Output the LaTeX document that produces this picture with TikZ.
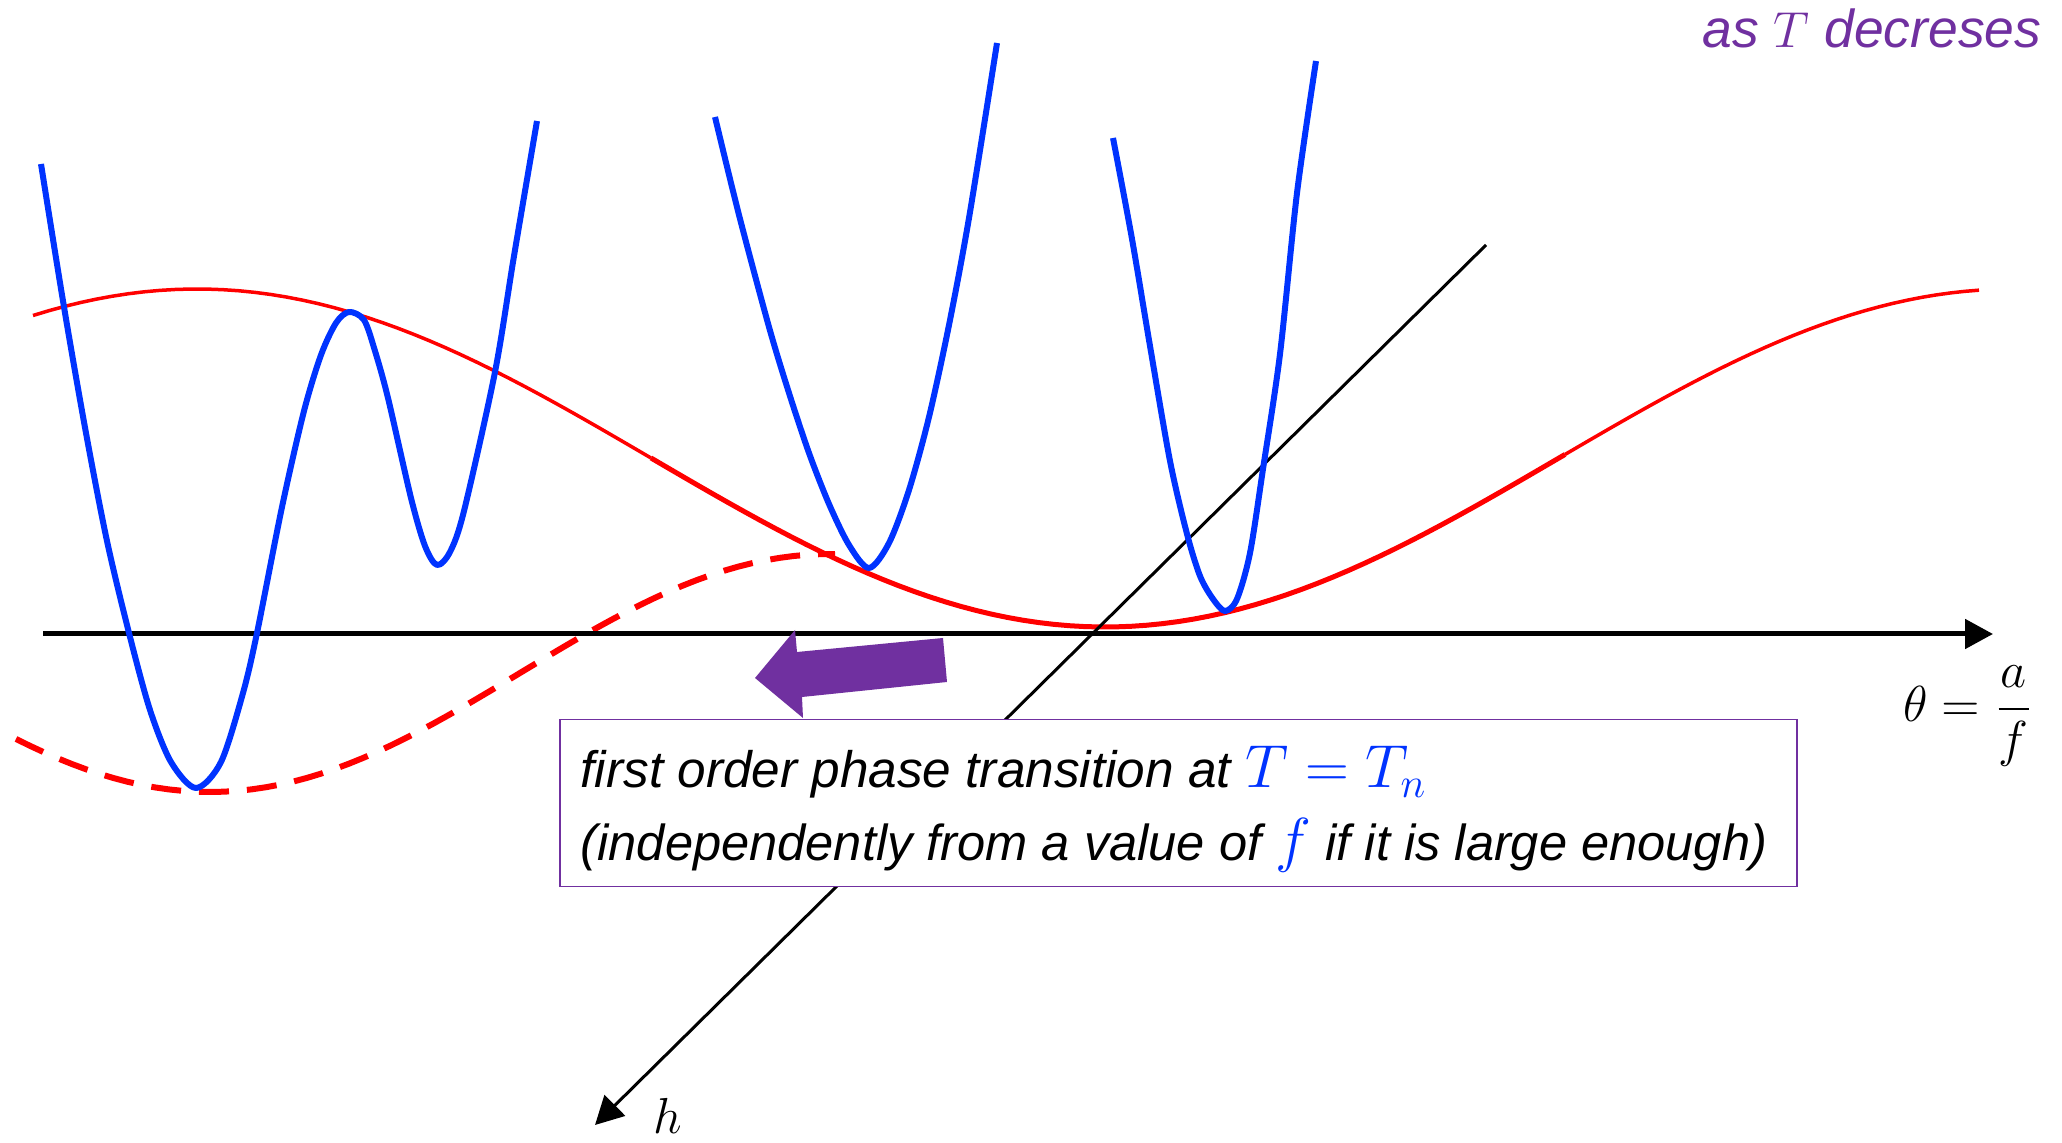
\documentclass[tikz,border=0pt]{standalone}
\usepackage[no-math]{fontspec}
\newfontfamily\arialfont{Liberation Sans}
\usepackage{tikz}
\usetikzlibrary{arrows.meta,positioning}
\definecolor{ppurple}{RGB}{112,48,160}
\definecolor{pblue}{RGB}{0,51,255}
\newcommand{\bluemath}[1]{\textcolor{pblue}{\fontsize{16.5}{17}\selectfont$#1$}}

\begin{document}
\begin{tikzpicture}[x=0.1mm, y=-0.1mm, >={Triangle[length=2.8mm,width=2.9mm]}]
\tikzstyle{pot}=[red,line width=0.35mm]
\tikzstyle{well}=[pblue,line width=0.6mm,line join=round]
\tikzstyle{axis}=[black,line width=0.5mm,->]
\tikzstyle{txt}=[inner sep=0pt,font=\fontsize{14.6}{17}\selectfont\arialfont\itshape]
\tikzstyle{mlbl}=[inner sep=0pt,font=\fontsize{15.5}{18}\selectfont]
\tikzstyle{notebox}=[draw=ppurple,fill=white,line width=0.15mm,inner sep=0pt]
\useasboundingbox (0,0) rectangle (2062,1143);
% red potential, solid and dashed
\draw[pot,domain=33:651,samples=40] plot (\x,{458-169*cos(0.198238*(\x-197))});
\draw[pot,line width=0.5mm,domain=651:1565,samples=60] plot (\x,{458-169*cos(0.198238*(\x-197))});
\draw[pot,domain=1565:1979,samples=30] plot (\x,{458-169*cos(0.198238*(\x-197))});
\draw[pot,line width=0.6mm,dash pattern=on 3mm off 1.8mm,domain=16:835,samples=60] plot (\x,{673+119*cos(0.290323*(\x-210))});
% axes
\coordinate (o) at (43,634);
\coordinate (thetaTip) at (1993,634);
\coordinate (hEnd) at (1486,245);
\coordinate (hTip) at (595,1125);
\draw[axis] (o) -- (thetaTip);
\draw[axis,line width=0.3mm] (hEnd) -- (hTip);
% blue wells
\draw[well] plot[smooth] coordinates {(41,164) (64,307) (86,433) (107,541) (129,633) (150,710) (171,762) (196,788) (221,762) (243,693) (257,633) (282,507) (304,411) (321,355) (336,323) (349,312) (364,320) (375,351) (388,398) (411,498) (425,546) (437,565) (450,552) (464,511) (495,372) (514,256) (537,121)};
\draw[well] plot[smooth] coordinates {(715,117) (739,215) (769,327) (789,393) (809,453) (829,504) (849,545) (869,568) (889,543) (909,490) (929,417) (949,325) (969,218) (997,43)};
\draw[well] plot[smooth] coordinates {(1113,138) (1132,239) (1150,346) (1170,461) (1187,534) (1200,576) (1213,599) (1225,611) (1237,599) (1250,553) (1263,469) (1280,354) (1297,193) (1316,61)};
% note
\node[notebox,anchor=north west,minimum width=123.7mm,minimum height=16.7mm] (note) at (559,719) {};
\fill[ppurple] (755,678) -- (795,630) -- (797,652) -- (943,638) -- (947,682) -- (802,697) -- (803,718) -- cycle;
\node[txt,anchor=base west] (line1) at (580,788) {first order phase transition at \bluemath{T=T_n}};
\node[txt,font=\fontsize{14.4}{17}\selectfont\arialfont\itshape,anchor=base west] (line2) at (580,861) {(independently from a value of \bluemath{f} if it is large enough)};
\node[txt,font=\fontsize{15.2}{18}\selectfont\arialfont\itshape,text=ppurple,anchor=base east] (dir) at (2042,48) {as $T$ decreses};
\node[mlbl] (thetaLbl) at (1968,716) {$\displaystyle\theta=\frac{a}{f}$};
\node[mlbl] (hLbl) at (668,1116) {$h$};
\end{tikzpicture}
\end{document}
